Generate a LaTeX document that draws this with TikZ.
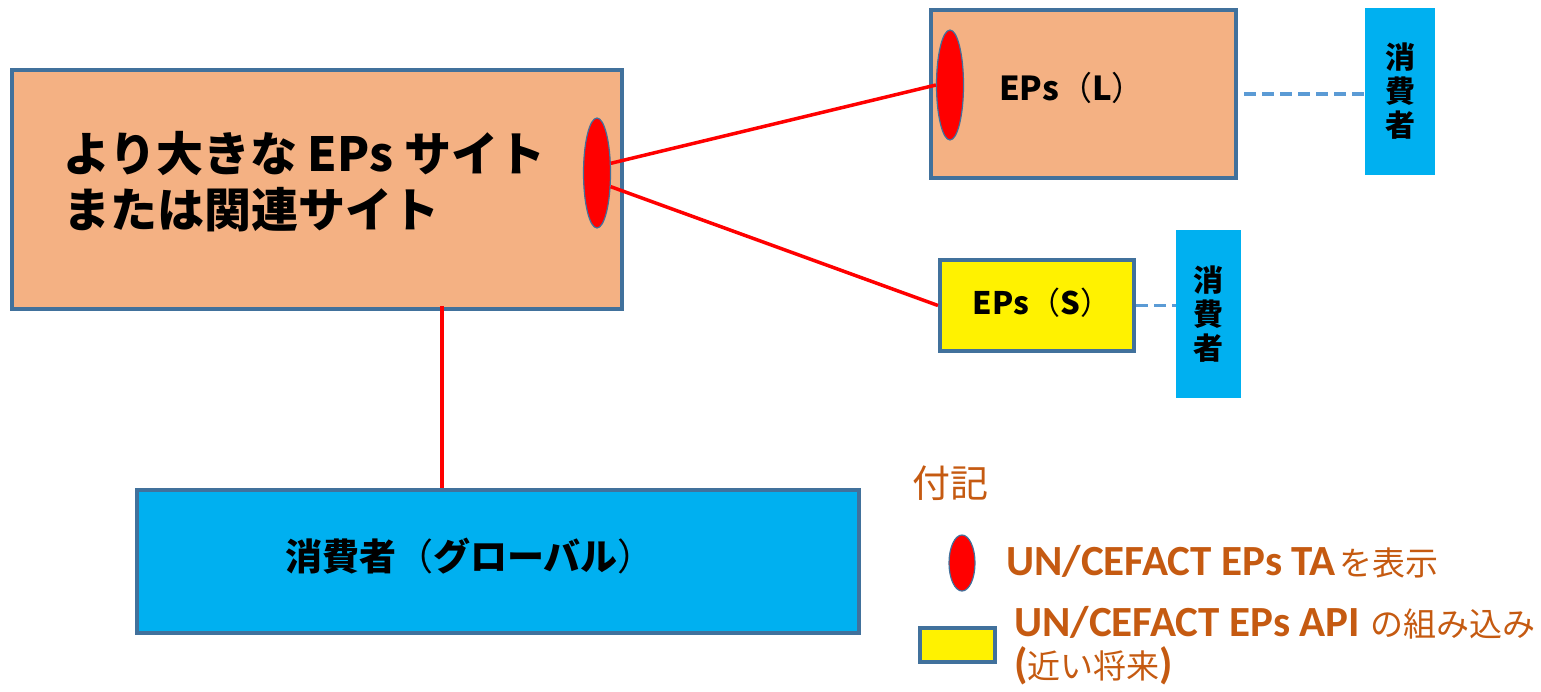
\documentclass[tikz,border=0pt]{standalone}
\usepackage{fontspec}
\usetikzlibrary{shapes.geometric}
\newfontfamily\jp{Noto Sans CJK JP}
\newfontfamily\lat{Carlito}
\definecolor{salmon}{HTML}{F4B183}
\definecolor{edge}{HTML}{41719C}
\definecolor{cyanbox}{HTML}{00B0F0}
\definecolor{dashc}{HTML}{5B9BD5}
\definecolor{legc}{HTML}{C55A11}
\tikzset{
  box/.style={draw=edge, line width=4pt, rectangle, inner sep=0pt},
  sitebox/.style={box, fill=salmon},
  ybox/.style={box, fill=yellow},
  gbox/.style={box, fill=cyanbox},
  cbox/.style={rectangle, fill=cyanbox, inner sep=0pt, font=\jp\bfseries\fontsize{30}{34}\selectfont, align=center},
  ta/.style={ellipse, draw=edge, line width=1.2pt, fill=red, inner sep=0pt},
  redline/.style={draw=red, line width=3.5pt},
  dashline/.style={draw=dashc, line width=3.5pt, dash pattern=on 12pt off 6pt},
  lbl/.style={inner sep=0pt, font=\jp\bfseries},
  legtxt/.style={inner sep=0pt, text=legc, anchor=west},
}
\newcommand{\legL}{\lat\bfseries\fontsize{43}{42}\selectfont}
\newcommand{\legJ}{\jp\mdseries\fontsize{33}{42}\selectfont}
\newcommand{\thinp}[1]{{\mdseries #1}}
\begin{document}
\begin{tikzpicture}[x=1pt, y=-1pt]
\useasboundingbox (0,0) rectangle (1541,691);
% main site box
\node[sitebox, minimum width=610pt, minimum height=239pt] (big) at (317,189.5) {};
\node[lbl, anchor=west, align=left, font=\jp\bfseries\fontsize{47}{56}\selectfont] (bigtxt) at (63,182) {より大きな EPs サイト\\または関連サイト};
\node[ta, minimum width=27pt, minimum height=110pt] (E1) at (597,173) {};
% EPs (L)
\node[sitebox, minimum width=305pt, minimum height=168pt] (epl) at (1083.5,94) {};
\node[ta, minimum width=27pt, minimum height=110pt] (E2) at (950,85) {};
\node[lbl, font=\jp\bfseries\fontsize{33}{38}\selectfont] (epltxt) at (1072,88) {EPs\thinp{（}L\thinp{）}};
\node[cbox, minimum width=70pt, minimum height=167pt] (c1) at (1400,91.5) {消\\費\\者};
% EPs (S)
\node[ybox, minimum width=194pt, minimum height=91pt] (eps) at (1037,305.5) {};
\node[lbl, font=\jp\bfseries\fontsize{31}{36}\selectfont] (epstxt) at (1042,303) {EPs\thinp{（}S\thinp{）}};
\node[cbox, minimum width=65pt, minimum height=168pt] (c2) at (1208.5,314) {消\\費\\者};
% global consumers
\node[gbox, minimum width=722pt, minimum height=143pt] (glob) at (498,561.5) {};
\node[lbl, font=\jp\bfseries\fontsize{37}{42}\selectfont] (globtxt) at (470,556) {消費者\thinp{（}グローバル\thinp{）}};
% connectors
\draw[redline] (E1.35) -- (E2.west);
\draw[redline] (E1.-45) -- (eps.west);
\draw[redline] ([xshift=125pt,yshift=5pt]big.south) -- ([xshift=125pt]big.south |- glob.north);
\draw[dashline] ([xshift=6pt]epl.east) -- (epl.east -| c1.west);
\draw[dashline] (eps.east) -- (eps.east -| c2.west);
% legend
\node[legtxt, font=\jp\fontsize{38}{42}\selectfont] (legtitle) at (912,483) {付記};
\node[ta, minimum width=26pt, minimum height=56pt] (LE) at (962,563) {};
\node[legtxt] (legta) at (1006,562) {{\legL UN/CEFACT EPs TA} {\legJ を表示}};
\node[ybox, minimum width=75pt, minimum height=34pt] (LR) at (957.5,645) {};
\node[legtxt, align=left, font=\legL] (legapi) at (1014,646) {{\legL UN/CEFACT EPs API} {\legJ の組み込み}\\{\legL (}{\legJ 近い将来}{\legL )}};
\end{tikzpicture}
\end{document}
